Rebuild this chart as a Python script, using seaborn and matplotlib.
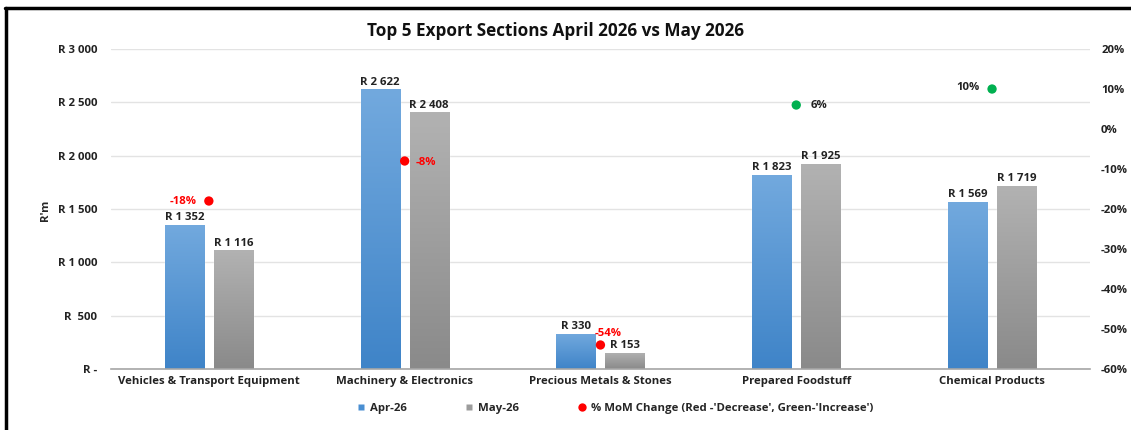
import numpy as np
import pandas as pd
import seaborn as sns
import matplotlib.pyplot as plt
from matplotlib.lines import Line2D
from matplotlib.colors import LinearSegmentedColormap
from matplotlib.ticker import FuncFormatter, MultipleLocator

# chart data
sections = ["Vehicles & Transport Equipment", "Machinery & Electronics",
            "Precious Metals & Stones", "Prepared Foodstuff", "Chemical Products"]
apr_26 = [1352, 2622, 330, 1823, 1569]
may_26 = [1116, 2408, 153, 1925, 1719]
mom_change = [-18, -8, -54, 6, 10]
months = ["Apr-26", "May-26"]

data = pd.DataFrame({
    "Section": sections * 2,
    "Month": [months[0]] * len(sections) + [months[1]] * len(sections),
    "Value": apr_26 + may_26,
})

sns.set_style("white")
plt.rcParams["font.family"] = ["Open Sans", "DejaVu Sans"]
plt.rcParams["font.weight"] = "bold"
FS = 8.2

fig = plt.figure(figsize=(11.31, 4.30), dpi=100)
ax = fig.add_axes([0.0981, 0.1419, 0.8656, 0.7441])

sns.barplot(data=data, x="Section", y="Value", hue="Month",
            palette={"Apr-26": "#4a8fd2", "May-26": "#9c9c9c"},
            width=0.5, gap=0.2, legend=False, ax=ax)

# vertical gradients on the bars
grads = {
    "Apr-26": ("#72a9de", "#3f84c8"),
    "May-26": ("#b2b2b2", "#8a8a8a"),
}
for cont, m in zip(ax.containers, months):
    cmap = LinearSegmentedColormap.from_list(m, [grads[m][1], grads[m][0]])
    for patch in cont:
        x0, y0 = patch.get_x(), patch.get_y()
        w, h = patch.get_width(), patch.get_height()
        im = ax.imshow(np.linspace(0, 1, 100).reshape(-1, 1), cmap=cmap,
                       extent=[x0, x0 + w, y0, y0 + h], origin="lower",
                       aspect="auto", zorder=patch.get_zorder())
        im.set_clip_path(patch)
    labels = [("R " + f"{v:,.0f}".replace(",", " ")) for v in cont.datavalues]
    ax.bar_label(cont, labels=labels, padding=1, fontsize=FS,
                 fontweight="bold", color="#222222")

ax.set_xlim(-0.5, len(sections) - 0.5)
ax.set_ylim(0, 3000)
ax.yaxis.set_major_locator(MultipleLocator(500))
ax.yaxis.set_major_formatter(FuncFormatter(
    lambda v, p: "R -" if v == 0 else ("R  " + f"{v:,.0f}".replace(",", " ") if v < 1000
                                       else "R " + f"{v:,.0f}".replace(",", " "))))
ax.grid(axis="y", color="#e3e3e3", linewidth=1)
ax.set_axisbelow(True)
for s in ["top", "right", "left"]:
    ax.spines[s].set_visible(False)
ax.spines["bottom"].set_color("#a6a6a6")
ax.spines["bottom"].set_linewidth(1.2)
ax.set_xlabel("")
ax.set_ylabel("")
ax.tick_params(axis="both", length=0, labelsize=FS, colors="#222222")
ax.tick_params(axis="y", pad=10)
ax.tick_params(axis="x", pad=5)
for t in ax.get_xticklabels() + ax.get_yticklabels():
    t.set_fontweight("bold")

# secondary axis with % MoM change
ax2 = ax.twinx()
pos = np.arange(len(sections))
dot_colors = ["#ff0000" if c < 0 else "#00b050" for c in mom_change]
sns.scatterplot(x=pos, y=mom_change, hue=pos, palette=dot_colors, s=45,
                legend=False, edgecolor="none", ax=ax2, zorder=5)
ax2.set_ylim(-60, 20)
ax2.yaxis.set_major_locator(MultipleLocator(10))
ax2.yaxis.set_major_formatter(FuncFormatter(lambda v, p: f"{v:.0f}%"))
for s in ax2.spines.values():
    s.set_visible(False)
ax2.tick_params(axis="y", length=0, labelsize=FS, colors="#222222", pad=8)
for t in ax2.get_yticklabels():
    t.set_fontweight("bold")
ax2.set_ylabel("")

offsets = [(-9, 0, "right", "center"), (8, -1, "left", "center"),
           (-4, 4, "left", "bottom"), (10, 0, "left", "center"),
           (-9, 1, "right", "center")]
for x, c, col, (dx, dy, ha, va) in zip(pos, mom_change, dot_colors, offsets):
    ax2.annotate(f"{c}%", (x, c), xytext=(dx, dy), textcoords="offset points",
                 ha=ha, va=va, fontsize=FS, fontweight="bold",
                 color="#ff0000" if c < 0 else "#222222")

fig.text(0.491, 0.928, "Top 5 Export Sections April 2026 vs May 2026",
         ha="center", va="center", fontsize=12.3, fontweight="bold", color="#111111")
fig.text(0.040, 0.51, "R'm", rotation=90, ha="center", va="center",
         fontsize=FS, fontweight="bold")

handles = [
    Line2D([], [], marker="s", linestyle="none", markersize=5,
           markerfacecolor="#4a8fd2", markeredgecolor="none"),
    Line2D([], [], marker="s", linestyle="none", markersize=5,
           markerfacecolor="#9c9c9c", markeredgecolor="none"),
    Line2D([], [], marker="o", linestyle="none", markersize=6,
           markerfacecolor="#ff0000", markeredgecolor="none"),
]
fig.legend(handles, months + ["% MoM Change (Red -'Decrease', Green-'Increase')"],
           loc="center", bbox_to_anchor=(0.543, 0.049), ncol=3, frameon=False,
           handletextpad=0.3, columnspacing=5.0, handlelength=1.0,
           prop={"weight": "bold", "size": FS})

# black frame on left and top edge
fig.add_artist(Line2D([0.0052, 0.0052], [0, 0.982], color="black", linewidth=2.5,
                      transform=fig.transFigure))
fig.add_artist(Line2D([0.0040, 1.0], [0.981, 0.981], color="black", linewidth=2.5,
                      transform=fig.transFigure))

fig.savefig("out.png", dpi=100)
